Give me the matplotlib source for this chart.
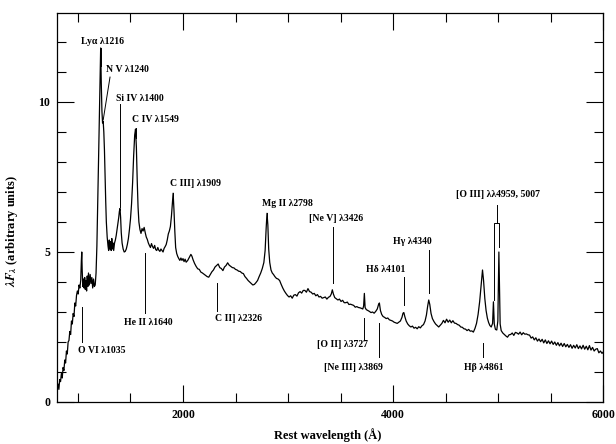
"""
Composite quasar spectrum with emission-line labels.
Saves the figure to out.png.
"""

import matplotlib
matplotlib.use("Agg")
import matplotlib.pyplot as plt
from matplotlib.ticker import MultipleLocator, FixedLocator


# rest wavelength (A) and lambda*F_lambda
WAVE = [
    800, 810, 818, 826, 834, 842, 850, 858, 866, 874, 882, 890, 898, 906,
    914, 922, 930, 938, 946, 954, 962, 970, 978, 986, 994, 1002, 1010,
    1018, 1026, 1032, 1036, 1040, 1046, 1052, 1058, 1064, 1070, 1076,
    1082, 1088, 1094, 1100, 1108, 1116, 1124, 1132, 1140, 1148, 1156,
    1164, 1172, 1180, 1188, 1196, 1204, 1210, 1216, 1222, 1228, 1234,
    1240, 1246, 1252, 1258, 1264, 1270, 1278, 1286, 1292, 1298, 1304,
    1310, 1316, 1322, 1328, 1334, 1340, 1348, 1356, 1364, 1372, 1380,
    1388, 1394, 1400, 1406, 1412, 1420, 1430, 1440, 1450, 1460, 1470,
    1480, 1490, 1500, 1510, 1520, 1530, 1540, 1548, 1556, 1564, 1572,
    1580, 1590, 1600, 1610, 1620, 1630, 1640, 1650, 1660, 1670, 1680,
    1690, 1700, 1710, 1720, 1730, 1740, 1750, 1760, 1770, 1780, 1790,
    1800, 1810, 1820, 1830, 1840, 1850, 1860, 1870, 1880, 1890, 1898,
    1906, 1914, 1922, 1930, 1940, 1950, 1960, 1970, 1980, 1990, 2000,
    2010, 2020, 2030, 2045, 2060, 2075, 2085, 2095, 2110, 2125, 2140,
    2155, 2170, 2185, 2200, 2215, 2230, 2245, 2260, 2275, 2290, 2305,
    2320, 2335, 2350, 2365, 2380, 2395, 2410, 2425, 2440, 2455, 2470,
    2485, 2500, 2515, 2530, 2545, 2560, 2575, 2590, 2605, 2620, 2635,
    2650, 2665, 2680, 2695, 2710, 2725, 2740, 2755, 2770, 2782, 2792,
    2800, 2808, 2816, 2826, 2838, 2850, 2862, 2875, 2890, 2905, 2920,
    2935, 2950, 2965, 2980, 2995, 3010, 3025, 3040, 3055, 3070, 3085,
    3100, 3115, 3130, 3145, 3160, 3175, 3190, 3205, 3220, 3235, 3250,
    3265, 3280, 3295, 3310, 3325, 3340, 3355, 3370, 3385, 3400, 3412,
    3422, 3432, 3445, 3460, 3475, 3490, 3505, 3520, 3535, 3550, 3565,
    3580, 3595, 3610, 3625, 3640, 3655, 3670, 3685, 3700, 3712, 3720,
    3727, 3734, 3745, 3760, 3775, 3790, 3805, 3820, 3835, 3850, 3862,
    3870, 3880, 3892, 3905, 3920, 3935, 3950, 3965, 3980, 3995, 4010,
    4025, 4040, 4055, 4070, 4085, 4095, 4103, 4112, 4125, 4140, 4155,
    4170, 4185, 4200, 4215, 4230, 4245, 4260, 4275, 4290, 4305, 4318,
    4330, 4340, 4350, 4362, 4375, 4390, 4405, 4420, 4435, 4450, 4465,
    4480, 4495, 4510, 4525, 4540, 4555, 4570, 4585, 4600, 4615, 4630,
    4645, 4660, 4675, 4690, 4705, 4720, 4735, 4750, 4765, 4780, 4795,
    4810, 4825, 4840, 4852, 4862, 4874, 4886, 4898, 4910, 4922, 4935,
    4948, 4956, 4964, 4975, 4988, 4998, 5004, 5008, 5013, 5020, 5030,
    5045, 5060, 5075, 5090, 5105, 5120, 5135, 5150, 5165, 5180, 5195,
    5210, 5225, 5240, 5255, 5270, 5285, 5300, 5315, 5330, 5345, 5360,
    5375, 5390, 5405, 5420, 5435, 5450, 5465, 5480, 5495, 5510, 5525,
    5540, 5555, 5570, 5585, 5600, 5615, 5630, 5645, 5660, 5675, 5690,
    5705, 5720, 5735, 5750, 5765, 5780, 5795, 5810, 5825, 5840, 5855,
    5870, 5885, 5900, 5915, 5930, 5945, 5960, 5975, 5990, 6000,
]

FLUX = [
    0.45, 0.60, 0.42, 0.75, 0.68, 0.95, 0.80, 1.15, 1.05, 1.40, 1.30, 1.70,
    1.60, 2.00, 2.05, 2.35, 2.25, 2.70, 2.60, 2.95, 2.85, 3.30, 3.20, 3.55,
    3.70, 3.60, 3.90, 3.80, 4.05, 4.70, 5.00, 4.40, 3.85, 4.10, 3.80, 4.15,
    3.75, 4.05, 3.70, 4.20, 3.85, 4.30, 3.90, 4.25, 3.95, 4.15, 3.80, 4.10,
    3.85, 3.90, 4.30, 5.20, 6.60, 8.10, 9.60, 10.80, 11.80, 10.60, 9.70,
    9.30, 9.35, 9.00, 8.40, 7.50, 6.70, 6.00, 5.50, 5.20, 5.05, 5.40, 5.10,
    5.35, 5.05, 5.45, 5.10, 5.30, 5.05, 5.30, 5.40, 5.55, 5.75, 5.95, 6.15,
    6.35, 6.45, 6.15, 5.65, 5.30, 5.10, 5.00, 5.02, 5.10, 5.25, 5.45, 5.75,
    6.10, 6.60, 7.30, 8.20, 8.90, 9.10, 8.50, 7.40, 6.50, 6.00, 5.75, 5.62,
    5.78, 5.70, 5.82, 5.65, 5.50, 5.42, 5.30, 5.22, 5.15, 5.28, 5.18, 5.12,
    5.22, 5.08, 5.05, 5.15, 5.06, 5.02, 5.10, 5.05, 5.00, 5.12, 5.18, 5.25,
    5.40, 5.60, 5.70, 5.85, 6.20, 6.60, 6.96, 6.40, 5.70, 5.15, 4.95, 4.85,
    4.78, 4.72, 4.80, 4.72, 4.78, 4.68, 4.76, 4.66, 4.72, 4.82, 4.92, 4.86,
    4.75, 4.62, 4.52, 4.44, 4.42, 4.33, 4.30, 4.26, 4.22, 4.18, 4.16, 4.25,
    4.34, 4.40, 4.50, 4.55, 4.60, 4.48, 4.45, 4.38, 4.50, 4.55, 4.64, 4.56,
    4.52, 4.48, 4.47, 4.42, 4.40, 4.36, 4.35, 4.30, 4.28, 4.18, 4.12, 4.05,
    4.00, 3.95, 3.90, 3.92, 3.98, 4.05, 4.18, 4.30, 4.45, 4.65, 5.05, 5.80,
    6.29, 5.90, 5.10, 4.65, 4.40, 4.30, 4.25, 4.18, 4.12, 4.10, 4.05, 3.92,
    3.80, 3.70, 3.62, 3.55, 3.50, 3.54, 3.46, 3.56, 3.58, 3.53, 3.64, 3.68,
    3.63, 3.72, 3.72, 3.66, 3.78, 3.68, 3.66, 3.60, 3.62, 3.54, 3.58, 3.50,
    3.52, 3.46, 3.48, 3.50, 3.43, 3.49, 3.52, 3.60, 3.74, 3.60, 3.48, 3.44,
    3.40, 3.43, 3.35, 3.39, 3.31, 3.31, 3.33, 3.25, 3.26, 3.24, 3.22, 3.16,
    3.18, 3.15, 3.14, 3.12, 3.10, 3.20, 3.62, 3.15, 3.08, 3.05, 3.02, 2.98,
    3.00, 2.96, 3.02, 3.10, 3.25, 3.30, 3.05, 2.92, 2.85, 2.82, 2.78, 2.80,
    2.74, 2.72, 2.70, 2.66, 2.64, 2.62, 2.66, 2.70, 2.82, 2.96, 2.98, 2.85,
    2.70, 2.60, 2.54, 2.50, 2.53, 2.46, 2.49, 2.44, 2.51, 2.47, 2.54, 2.58,
    2.70, 2.90, 3.20, 3.40, 3.25, 2.95, 2.78, 2.68, 2.60, 2.55, 2.50, 2.56,
    2.62, 2.72, 2.64, 2.76, 2.66, 2.73, 2.64, 2.71, 2.63, 2.62, 2.58, 2.56,
    2.50, 2.49, 2.44, 2.43, 2.38, 2.42, 2.36, 2.37, 2.33, 2.45, 2.62, 2.92,
    3.35, 3.95, 4.40, 4.05, 3.45, 3.05, 2.80, 2.65, 2.55, 2.50, 2.62, 3.34,
    2.60, 2.42, 2.40, 2.70, 4.20, 5.00, 4.00, 2.60, 2.38, 2.30, 2.25, 2.20,
    2.16, 2.24, 2.25, 2.30, 2.22, 2.32, 2.30, 2.26, 2.33, 2.24, 2.31, 2.26,
    2.27, 2.24, 2.23, 2.13, 2.17, 2.07, 2.14, 2.03, 2.10, 2.01, 2.09, 1.97,
    2.07, 1.95, 2.04, 1.94, 2.03, 1.92, 2.00, 1.89, 1.98, 1.87, 1.96, 1.85,
    1.95, 1.84, 1.92, 1.82, 1.91, 1.79, 1.89, 1.80, 1.91, 1.78, 1.87, 1.77,
    1.89, 1.76, 1.86, 1.74, 1.88, 1.73, 1.82, 1.70, 1.76, 1.78, 1.64, 1.70,
    1.62, 1.66,
]

# emission-line labels and the rest wavelength each one marks
LINE_NAMES = [
    "Lyα λ1216", "N V λ1240", "Si IV λ1400", "C IV λ1549", "C III] λ1909",
    "Mg II λ2798", "[Ne V] λ3426", "Hδ λ4101", "Hγ λ4340",
    "[O III] λλ4959, 5007", "O VI λ1035", "He II λ1640", "C II] λ2326",
    "[O II] λ3727", "[Ne III] λ3869", "Hβ λ4861",
]
LINE_WAVE = [
    1216, 1240, 1400, 1549, 1909, 2798, 3426, 4101, 4340,
    4987, 1035, 1640, 2326, 3727, 3869, 4861,
]

# layout: text centre (x, y) and tick segment (y0, y1) for each label
TEXT_POS = [
    (1238, 12.03), (1467, 11.07), (1590, 10.10), (1735, 9.43),
    (2120, 7.27), (2991, 6.63), (3457, 6.13), (3929, 4.40),
    (4181, 5.34), (5003, 6.92), (1230, 1.71), (1667, 2.64),
    (2530, 2.79), (3522, 1.92), (3627, 1.14), (4860, 1.14),
]
TICK_SPAN = [
    (11.80, 11.20), None, (9.93, 6.50), (9.13, 8.80), (6.97, 6.80),
    (6.30, 6.10), (5.84, 3.96), (4.18, 3.23), (5.07, 3.62),
    (6.57, 5.96), (3.18, 2.01), (4.96, 2.98), (3.96, 3.04),
    (2.79, 2.07), (2.62, 1.51), (1.96, 1.51),
]


def main() -> None:
    plt.rcParams["font.family"] = ["Liberation Serif", "DejaVu Serif"]
    plt.rcParams["font.weight"] = "bold"
    plt.rcParams["mathtext.fontset"] = "stix"

    fig = plt.figure(figsize=(6.16, 4.44), dpi=100)
    ax = fig.add_axes([0.0925, 0.0946, 0.8865, 0.875])

    ax.plot(WAVE, FLUX, color="black", lw=0.9)

    ax.set_xlim(800, 6000)
    ax.set_ylim(0, 12.95)

    ax.xaxis.set_major_locator(FixedLocator([2000, 4000, 6000]))
    ax.xaxis.set_minor_locator(MultipleLocator(500))
    ax.yaxis.set_major_locator(MultipleLocator(5))
    ax.yaxis.set_minor_locator(MultipleLocator(1))
    ax.tick_params(which="both", direction="in", top=True, right=True,
                   width=0.8, labelsize=8.5)
    ax.tick_params(which="major", length=12, pad=5)
    ax.tick_params(which="minor", length=6.5)
    for spine in ax.spines.values():
        spine.set_linewidth(0.9)

    ax.set_xlabel("Rest wavelength (Å)", fontsize=9, fontweight="bold")
    ax.set_ylabel(r"$\lambda F_{\lambda}$ (arbitrary units)", fontsize=9,
                  fontweight="bold")
    ax.xaxis.set_label_coords(0.496, -0.068)
    ax.yaxis.set_label_coords(-0.068, 0.44)

    for name, wave, (tx, ty), span in zip(LINE_NAMES, LINE_WAVE,
                                          TEXT_POS, TICK_SPAN):
        ax.text(tx, ty, name, fontsize=7, fontweight="bold",
                ha="center", va="center")
        if span is not None:
            ax.plot([wave, wave], span, color="black", lw=0.7)

    # N V marker is a slanted stroke towards the shoulder
    ax.plot([1305, 1240], [10.83, 9.40], color="black", lw=0.7)
    # [O III] bracket over the doublet
    ax.plot([4962, 4962, 5010, 5010], [3.40, 5.96, 5.96, 5.18],
            color="black", lw=0.7)

    fig.savefig("out.png", dpi=100)
    plt.close(fig)


if __name__ == "__main__":
    main()
